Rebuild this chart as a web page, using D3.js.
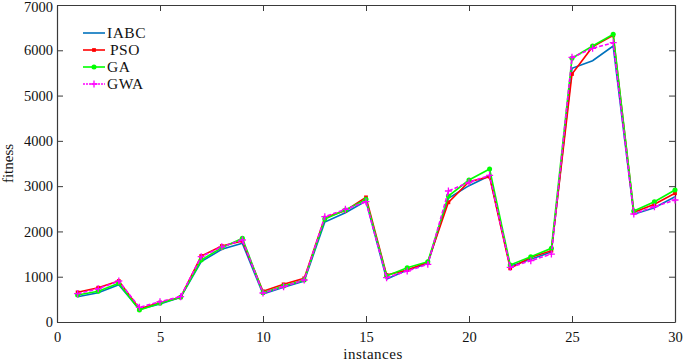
<!DOCTYPE html>
<html>
<head>
<meta charset="utf-8">
<script src="https://cdn.jsdelivr.net/npm/d3@7"></script>
<style>
body { margin: 0; background: #fff; }
svg text { font-family: "Liberation Serif", "Times New Roman", serif; }
</style>
</head>
<body>
<div class="canvas"></div>
<script>
// data
const instances = d3.range(1, 31);
const iabc = [559, 647, 824, 280, 397, 545, 1332, 1605, 1737, 618, 766, 905, 2208, 2414, 2672, 949, 1148, 1290, 2731, 3010, 3230, 1230, 1384, 1546, 5601, 5770, 6094, 2378, 2524, 2767];
const pso = [655, 757, 905, 294, 430, 545, 1457, 1678, 1788, 677, 832, 964, 2303, 2460, 2753, 1038, 1148, 1320, 2643, 3098, 3208, 1185, 1428, 1575, 5476, 6079, 6330, 2422, 2599, 2842];
const ga = [596, 678, 854, 265, 412, 545, 1369, 1641, 1848, 648, 795, 927, 2274, 2473, 2709, 1016, 1199, 1332, 2782, 3135, 3378, 1259, 1442, 1627, 5822, 6094, 6352, 2451, 2656, 2915];
const gwa = [625, 735, 905, 324, 448, 560, 1442, 1660, 1811, 640, 780, 927, 2325, 2488, 2656, 978, 1126, 1274, 2893, 3085, 3239, 1208, 1354, 1501, 5844, 6043, 6167, 2385, 2546, 2694];
const xTicks = [0, 5, 10, 15, 20, 25, 30];
const yTicks = [0, 1000, 2000, 3000, 4000, 5000, 6000, 7000];

const series = [
	{name: 'IABC', values: iabc, color: '#0072bd', marker: 'none'},
	{name: 'PSO', values: pso, color: '#ff0000', marker: 'square'},
	{name: 'GA', values: ga, color: '#00ff00', marker: 'circle'},
	{name: 'GWA', values: gwa, color: '#ff00ff', marker: 'plus', dash: '4,2'}
];

const svg = d3.select('.canvas')
	.append('svg')
	.attr('width', 685)
	.attr('height', 363);

const margin = {top: 5, right: 10, bottom: 41, left: 57};
const graphWidth = 685 - margin.left - margin.right;
const graphHeight = 363 - margin.top - margin.bottom;

const graph = svg.append('g')
	.attr('transform', `translate(${margin.left},${margin.top})`);

const x = d3.scaleLinear().domain([0, 30]).range([0, graphWidth]);
const y = d3.scaleLinear().domain([0, 7000]).range([graphHeight, 0]);

// box with inner ticks on all four sides
const axisColor = '#3a3a3a';
const xAxis = d3.axisBottom(x).tickValues(xTicks).tickSizeInner(-6).tickSizeOuter(0).tickPadding(10).tickFormat(d3.format('d'));
const yAxis = d3.axisLeft(y).tickValues(yTicks).tickSizeInner(-6).tickSizeOuter(0).tickPadding(4).tickFormat(d3.format('d'));
const xTop = d3.axisTop(x).tickValues(xTicks).tickSizeInner(-6).tickSizeOuter(0).tickFormat('');
const yRight = d3.axisRight(y).tickValues(yTicks).tickSizeInner(-6).tickSizeOuter(0).tickFormat('');

graph.append('g').attr('transform', `translate(0,${graphHeight})`).call(xAxis);
const yAxisGroup = graph.append('g').call(yAxis);
graph.append('g').call(xTop);
graph.append('g').attr('transform', `translate(${graphWidth},0)`).call(yRight);

graph.selectAll('.domain').attr('stroke', axisColor).attr('stroke-width', 1.2);
graph.selectAll('.tick line').attr('stroke', axisColor).attr('stroke-width', 1);
graph.selectAll('.tick text')
	.attr('fill', '#111')
	.style('font-size', '14.5px')
	.style('font-family', '"Liberation Serif", serif');

// keep the top label inside the picture
yAxisGroup.selectAll('.tick text')
	.filter(d => d === 7000)
	.attr('dy', '0.42em');

// lines
const line = d3.line()
	.x((d, i) => x(instances[i]))
	.y(d => y(d));

const symbolFor = {
	square: d3.symbol().type(d3.symbolSquare).size(14),
	circle: d3.symbol().type(d3.symbolCircle).size(20)
};

function drawMarker(g, s, cx, cy) {
	if (s.marker === 'plus') {
		g.append('path')
			.attr('d', `M${cx - 3.5},${cy}H${cx + 3.5}M${cx},${cy - 3.5}V${cy + 3.5}`)
			.attr('stroke', s.color)
			.attr('stroke-width', 1.3)
			.attr('fill', 'none');
	} else if (s.marker !== 'none') {
		g.append('path')
			.attr('d', symbolFor[s.marker]())
			.attr('transform', `translate(${cx},${cy})`)
			.attr('fill', s.color);
	}
}

series.forEach(s => {
	const g = graph.append('g');
	g.append('path')
		.datum(s.values)
		.attr('d', line)
		.attr('fill', 'none')
		.attr('stroke', s.color)
		.attr('stroke-width', 1.6)
		.attr('stroke-dasharray', s.dash || null);
	s.values.forEach((v, i) => drawMarker(g, s, x(instances[i]), y(v)));
});

// legend
const legend = graph.append('g').attr('transform', 'translate(26,28)');
series.forEach((s, i) => {
	const row = legend.append('g').attr('transform', `translate(0,${i * 17})`);
	row.append('line')
		.attr('x1', 0).attr('x2', 22)
		.attr('stroke', s.color)
		.attr('stroke-width', 1.6)
		.attr('stroke-dasharray', s.dash ? '2,1' : null);
	drawMarker(row, s, 11, 0);
	row.append('text')
		.attr('x', s.name === 'PSO' ? 27 : 24)
		.attr('y', 5)
		.style('font-size', '15.5px')
		.style('letter-spacing', '0.5px')
		.attr('fill', '#111')
		.text(s.name);
});

// axis titles
svg.append('text')
	.attr('x', 373)
	.attr('y', 359)
	.attr('text-anchor', 'middle')
	.style('font-size', '15px')
	.style('letter-spacing', '0.5px')
	.attr('fill', '#111')
	.text('instances');

svg.append('text')
	.attr('transform', `translate(13,${margin.top + graphHeight / 2}) rotate(-90)`)
	.attr('text-anchor', 'middle')
	.style('font-size', '15px')
	.attr('fill', '#111')
	.text('fitness');
</script>
</body>
</html>
